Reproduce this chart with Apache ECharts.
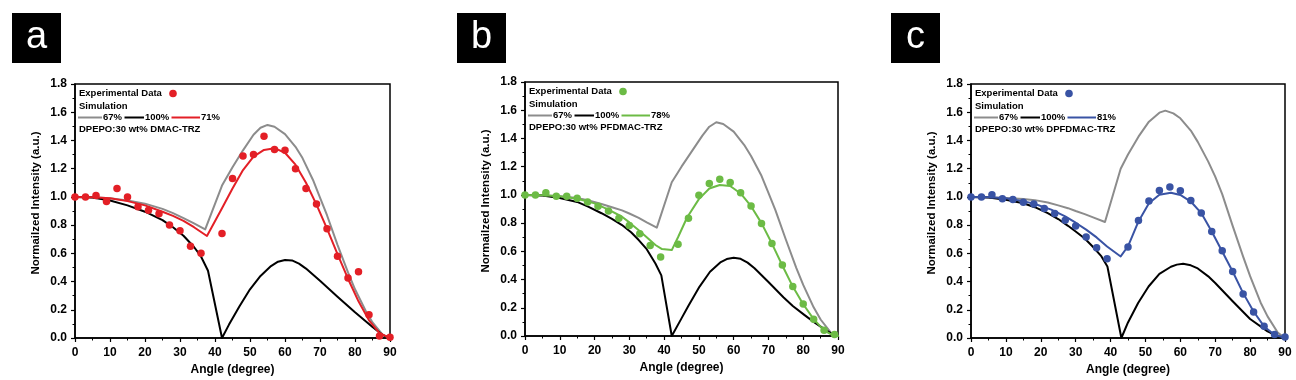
<!DOCTYPE html>
<html><head><meta charset="utf-8">
<script src="https://cdn.jsdelivr.net/npm/echarts@6/dist/echarts.min.js"></script>
<style>html,body{margin:0;padding:0;background:#fff}#c{width:1296px;height:380px}</style>
</head><body><div id="c"></div>
<script>
// ---------- labels ----------
const panelLetters = ['a', 'b', 'c'];
const simLabels = ['67%', '100%'];
const fitLabels = ['71%', '78%', '81%'];
const expLabel = 'Experimental Data';
const simTitle = 'Simulation';
const sampleLabels = ['DPEPO:30 wt% DMAC-TRZ', 'DPEPO:30 wt% PFDMAC-TRZ', 'DPEPO:30 wt% DPFDMAC-TRZ'];
const xAxisTitle = 'Angle (degree)';
const yAxisTitle = 'Normailzed Intensity (a.u.)';
const xTicks = [0, 90, 10];   // min, max, step
const yTicks = [0, 1.8, 0.2];

// ---------- panel a ----------
const aExp = [[0,1.0],[3,1.0],[6,1.01],[9,0.967],[12,1.06],[15,1.0],[18,0.93],[21,0.905],[24,0.88],[27,0.80],[30,0.76],[33,0.65],[36,0.60],[42,0.74],[45,1.13],[48,1.29],[51,1.30],[54,1.43],[57,1.335],[60,1.33],[63,1.20],[66,1.06],[69,0.95],[72,0.775],[75,0.58],[78,0.425],[81,0.47],[84,0.165],[87,0.015],[90,0.005]];
const aSim67 = [[0,1.0],[5,0.998],[10,0.99],[15,0.975],[20,0.952],[25,0.915],[28,0.885],[31,0.85],[34,0.812],[37.2,0.77],[42,1.08],[45,1.21],[48,1.33],[51,1.44],[53,1.49],[55,1.51],[57,1.497],[60,1.445],[63,1.355],[65,1.275],[68,1.12],[70,0.995],[72,0.87],[75,0.66],[78,0.465],[80,0.345],[83,0.195],[85,0.11],[88,0.02],[90,0]];
const aSim100 = [[0,1.0],[5,0.995],[10,0.975],[15,0.94],[20,0.895],[25,0.835],[28,0.785],[31,0.725],[34,0.645],[36,0.578],[38,0.477],[42,0],[44,0.095],[47,0.225],[50,0.345],[53,0.44],[56,0.51],[58,0.541],[60,0.553],[62,0.55],[64,0.527],[66,0.492],[70,0.405],[75,0.293],[80,0.183],[85,0.078],[88,0.02],[90,0]];
const aSim71 = [[0,1.0],[5,0.998],[10,0.99],[15,0.97],[20,0.94],[25,0.895],[28,0.865],[31,0.83],[34,0.785],[37.7,0.723],[42,0.92],[45,1.06],[48,1.19],[51,1.285],[54,1.333],[57,1.345],[60,1.313],[63,1.228],[66,1.10],[69,0.945],[72,0.775],[75,0.595],[78,0.42],[81,0.26],[84,0.125],[87,0.035],[90,0]];

// ---------- panel b ----------
const bExp = [[0,1.0],[3,1.0],[6,1.015],[9,0.99],[12,0.99],[15,0.977],[18,0.95],[21,0.92],[24,0.885],[27,0.835],[30,0.783],[33,0.724],[36,0.642],[39,0.56],[44,0.65],[47,0.834],[50,0.997],[53,1.08],[56,1.11],[59,1.087],[62,1.016],[65,0.921],[68,0.797],[71,0.656],[74,0.503],[77,0.35],[80,0.226],[83,0.118],[86,0.04],[89,0.01]];
const bSim67 = [[0,1.0],[5,0.998],[10,0.99],[15,0.978],[18.3,0.96],[22,0.935],[25,0.912],[27.9,0.89],[30,0.868],[32.7,0.837],[35,0.805],[37.9,0.768],[42.2,1.09],[45,1.20],[48,1.31],[51,1.42],[53,1.483],[55,1.515],[57,1.502],[60,1.448],[63,1.355],[65,1.275],[68,1.135],[70,1.015],[72,0.892],[75,0.684],[78,0.483],[80,0.362],[83,0.203],[85,0.117],[88,0.022],[90,0]];
const bSim100 = [[0,1.0],[5,0.995],[10,0.978],[15,0.95],[18.3,0.915],[22,0.87],[25,0.83],[27.9,0.786],[30.5,0.735],[32.7,0.68],[35,0.615],[37.5,0.514],[39.2,0.43],[42.2,0],[45,0.125],[47,0.215],[50.2,0.35],[53.2,0.455],[56.3,0.524],[58,0.545],[60,0.554],[62,0.547],[64,0.52],[66,0.48],[70,0.383],[74.3,0.275],[77,0.213],[80.4,0.148],[83,0.1],[86.5,0.042],[88.5,0.012],[90,0]];
const bSim78 = [[0,1.0],[5,0.998],[10,0.99],[15,0.972],[20,0.94],[24,0.895],[27.9,0.845],[30,0.805],[32.7,0.75],[35,0.70],[37.5,0.645],[39.4,0.616],[42.2,0.609],[44,0.70],[46.6,0.84],[50,0.97],[53,1.045],[56,1.07],[59,1.063],[62,1.01],[65,0.92],[68,0.80],[71,0.655],[74,0.50],[77,0.35],[80,0.225],[83,0.12],[86,0.04],[88,0.012],[90,0]];

// ---------- panel c ----------
const cExp = [[0,1.0],[3,1.0],[6,1.015],[9,0.986],[12,0.982],[15,0.962],[18,0.949],[21,0.918],[24,0.883],[27,0.834],[30,0.793],[33,0.715],[36,0.64],[39,0.562],[45,0.644],[48,0.833],[51,0.97],[54,1.045],[57,1.07],[60,1.043],[63,0.974],[66,0.885],[69,0.755],[72,0.618],[75,0.472],[78,0.311],[81,0.184],[84,0.083],[87,0.024],[90,0.007]];
const cSim67 = [[0,1.0],[5,0.998],[10,0.993],[15,0.985],[18.3,0.977],[22,0.96],[25,0.94],[27.8,0.92],[30,0.90],[32.6,0.878],[35,0.855],[38.4,0.822],[42.9,1.20],[45,1.30],[48,1.427],[51,1.533],[54,1.597],[55.7,1.611],[58,1.592],[60,1.557],[63,1.47],[65,1.39],[68,1.25],[70,1.144],[72,1.02],[75,0.795],[78,0.577],[80,0.438],[83,0.252],[85,0.153],[88,0.036],[90,0]];
const cSim100 = [[0,1.0],[5,0.996],[10,0.98],[15,0.955],[18.3,0.927],[22,0.885],[25,0.843],[27.8,0.795],[30,0.755],[32.6,0.705],[35,0.645],[37.4,0.578],[39.1,0.507],[43.1,0],[45,0.11],[47.9,0.248],[50.9,0.365],[54,0.455],[57.3,0.505],[59,0.52],[60.8,0.526],[63,0.515],[65,0.493],[68,0.437],[70,0.39],[75,0.26],[80,0.135],[85,0.047],[88,0.012],[90,0]];
const cSim81 = [[0,1.0],[5,0.998],[10,0.99],[15,0.97],[18.3,0.95],[23,0.91],[27,0.862],[30,0.817],[33,0.768],[36,0.713],[39,0.648],[42.9,0.578],[45,0.65],[48,0.826],[51,0.955],[54,1.015],[57.3,1.03],[60,1.014],[63,0.967],[66,0.885],[69,0.755],[72,0.613],[75,0.471],[78,0.318],[81,0.188],[84,0.082],[87,0.023],[90,0]];

const expData = [aExp, bExp, cExp];
const sim67Data = [aSim67, bSim67, cSim67];
const sim100Data = [aSim100, bSim100, cSim100];
const fitData = [aSim71, bSim78, cSim81];

// ---------- styles / layout ----------
const fitColors = ['#e31f26', '#6cbb45', '#3953a4'];
const grayColor = '#8c8c8c';
const FONT = "'Liberation Sans', Arial, sans-serif";
const grids = [
  {left: 75, top: 84, width: 315, height: 254},
  {left: 525, top: 82, width: 313, height: 254},
  {left: 971, top: 84, width: 314, height: 254}
];
const boxes = [{x: 12, y: 13}, {x: 457, y: 13}, {x: 891, y: 13}];

const option = {
  animation: false,
  backgroundColor: '#fff',
  textStyle: {fontFamily: FONT},
  grid: grids.map(g => Object.assign({show: true, borderColor: '#000', borderWidth: 1.5, containLabel: false, outerBoundsMode: 'none'}, g)),
  xAxis: grids.map((g, i) => ({
    type: 'value', gridIndex: i, min: xTicks[0], max: xTicks[1], interval: xTicks[2],
    axisLine: {show: true, onZero: false, lineStyle: {color: '#000', width: 1.5}},
    axisTick: {show: true, length: 4, lineStyle: {color: '#000', width: 1.2}},
    minorTick: {show: true, splitNumber: 2, length: 2.5, lineStyle: {color: '#000', width: 1}},
    splitLine: {show: false},
    axisLabel: {color: '#000', fontSize: 12, fontWeight: 'bold', margin: 9, fontFamily: FONT},
    name: xAxisTitle, nameLocation: 'middle', nameGap: 26,
    nameTextStyle: {color: '#000', fontSize: 12, fontWeight: 'bold', fontFamily: FONT}
  })),
  yAxis: grids.map((g, i) => ({
    type: 'value', gridIndex: i, min: yTicks[0], max: yTicks[1], interval: yTicks[2],
    axisLine: {show: true, onZero: false, lineStyle: {color: '#000', width: 1.5}},
    axisTick: {show: true, length: 4, lineStyle: {color: '#000', width: 1.2}},
    minorTick: {show: true, splitNumber: 2, length: 2.5, lineStyle: {color: '#000', width: 1}},
    splitLine: {show: false},
    axisLabel: {color: '#000', fontSize: 12, fontWeight: 'bold', margin: 8, fontFamily: FONT,
      formatter: v => v.toFixed(1)},
    name: yAxisTitle, nameLocation: 'middle', nameGap: 33, nameRotate: 90,
    nameTextStyle: {color: '#000', fontSize: 11.5, fontWeight: 'bold', fontFamily: FONT, padding: [0, 0, 0, 16]}
  })),
  series: [],
  graphic: []
};

for (let i = 0; i < 3; i++) {
  const line = (data, color, z) => ({
    type: 'line', xAxisIndex: i, yAxisIndex: i, data: data, showSymbol: false,
    smooth: false, z: z,
    lineStyle: {color: color, width: 2, join: 'round', cap: 'round'}
  });
  option.series.push(line(sim67Data[i], grayColor, 2));
  option.series.push(line(sim100Data[i], '#000', 3));
  option.series.push(line(fitData[i], fitColors[i], 4));
  option.series.push({
    type: 'scatter', xAxisIndex: i, yAxisIndex: i, data: expData[i],
    symbol: 'circle', symbolSize: 7.5, z: 5,
    itemStyle: {color: fitColors[i], opacity: 1}
  });

  const L = grids[i].left, T = grids[i].top;
  const txt = (x, y, s) => ({
    type: 'text', x: x, y: y, silent: true, z: 10,
    style: {text: s, fill: '#000', font: 'bold 9.5px ' + FONT, textVerticalAlign: 'middle', verticalAlign: 'middle', align: 'left'}
  });
  const seg = (x1, x2, y, color) => ({
    type: 'line', silent: true, z: 10,
    shape: {x1: x1, y1: y, x2: x2, y2: y},
    style: {stroke: color, lineWidth: 2}
  });
  option.graphic.push(
    txt(L + 4, T + 9.5, expLabel),
    {type: 'circle', silent: true, z: 10, shape: {cx: L + 98, cy: T + 9.5, r: 3.8}, style: {fill: fitColors[i]}},
    txt(L + 4, T + 22, simTitle),
    seg(L + 3, L + 27, T + 33.5, grayColor),
    txt(L + 28, T + 33.5, simLabels[0]),
    seg(L + 49.5, L + 69, T + 33.5, '#000'),
    txt(L + 70, T + 33.5, simLabels[1]),
    seg(L + 96.5, L + 125, T + 33.5, fitColors[i]),
    txt(L + 126, T + 33.5, fitLabels[i]),
    txt(L + 4, T + 45, sampleLabels[i]),
    {type: 'rect', silent: true, shape: {x: boxes[i].x, y: boxes[i].y, width: 49, height: 50}, style: {fill: '#000'}},
    {type: 'text', silent: true, x: boxes[i].x + 24.5, y: boxes[i].y + 25,
      style: {text: panelLetters[i], fill: '#fff', font: '38px ' + FONT, align: 'center', verticalAlign: 'middle', textVerticalAlign: 'middle'}}
  );
}

const chart = echarts.init(document.getElementById('c'), null, {renderer: 'canvas'});
chart.setOption(option);
</script>
</body></html>
